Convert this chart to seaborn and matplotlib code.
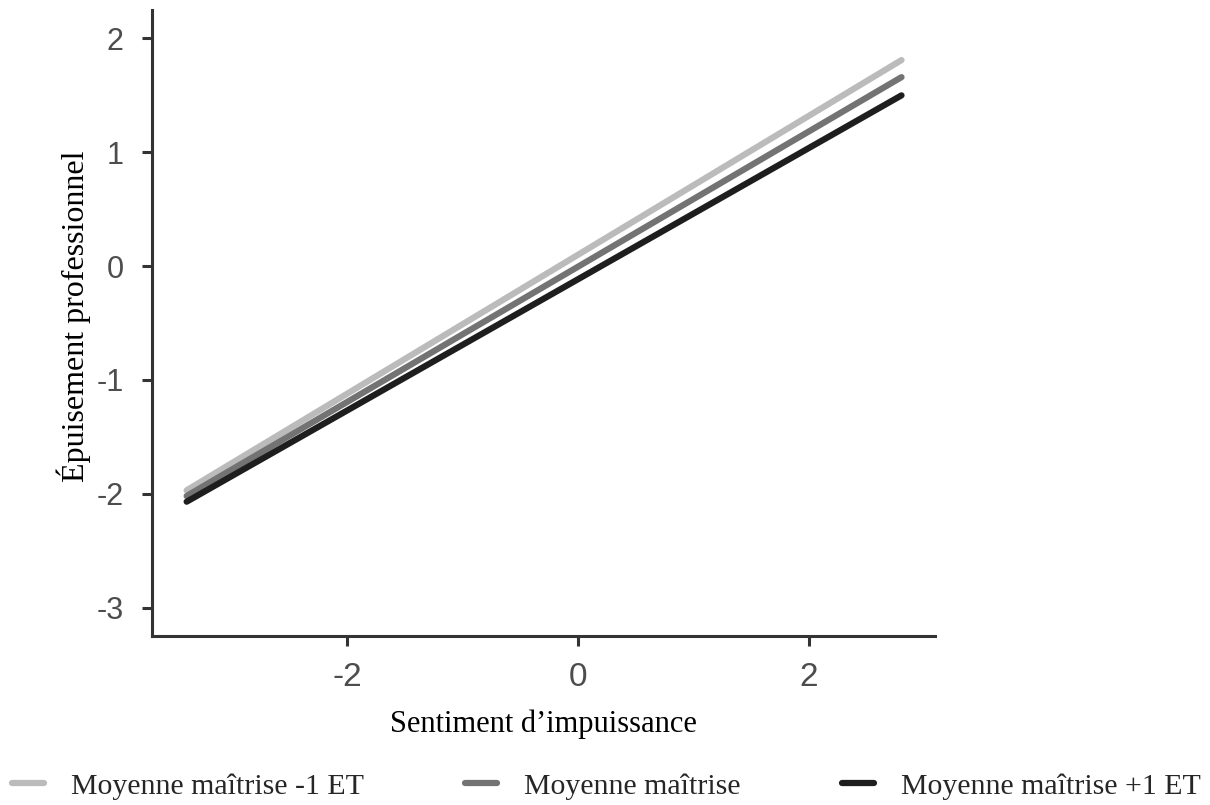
import matplotlib
matplotlib.use("Agg")
import matplotlib.pyplot as plt
import seaborn as sns
import pandas as pd

# Data
x_range = [-3.39, 2.80]
series_names = ["Moyenne maîtrise -1 ET", "Moyenne maîtrise", "Moyenne maîtrise +1 ET"]
y_low_sd = [-1.97, 1.81]
y_mean = [-2.02, 1.66]
y_high_sd = [-2.07, 1.50]
x_ticks = [-2, 0, 2]
y_ticks = [-3, -2, -1, 0, 1, 2]
colors = ["#BBBBBB", "#737373", "#1E1E1E"]

df = pd.DataFrame({
    "x": x_range * 3,
    "y": y_low_sd + y_mean + y_high_sd,
    "group": [series_names[0]] * 2 + [series_names[1]] * 2 + [series_names[2]] * 2,
})

sns.set_theme(style="ticks")
fig = plt.figure(figsize=(12.1, 8.05), dpi=100)
ax = fig.add_axes([152 / 1210, 1 - 636 / 805, (935 - 152) / 1210, (636 - 10) / 805])

sns.lineplot(data=df, x="x", y="y", hue="group", hue_order=series_names,
             palette=colors, linewidth=4.5, ax=ax, legend=True)

ax.set_xlim(-3.69, 3.09)
ax.set_ylim(-3.25, 2.25)
ax.set_xticks(x_ticks)
ax.set_yticks(y_ticks)
ax.set_xticklabels([str(v) for v in x_ticks], family="Liberation Sans", fontsize=24, color="#4D4D4D")
ax.set_yticklabels([str(v) for v in y_ticks], family="Liberation Sans", fontsize=22, color="#4D4D4D")
ax.tick_params(axis="both", length=7.5, width=2.2, color="#333333")
ax.tick_params(axis="x", pad=11)
ax.tick_params(axis="y", pad=13)
for s in ["left", "bottom"]:
    ax.spines[s].set_linewidth(2.2)
    ax.spines[s].set_color("#333333")
sns.despine(ax=ax)

ax.set_xlabel("Sentiment d’impuissance", family="Liberation Serif", fontsize=22, color="black", labelpad=12)
ax.set_ylabel("Épuisement professionnel", family="Liberation Serif", fontsize=23, color="black")
ax.yaxis.set_label_coords(-0.078, 0.511)

handles, labels = ax.get_legend_handles_labels()
ax.get_legend().remove()
fig.legend(handles, labels, loc="center", bbox_to_anchor=(0.501, 0.023), ncol=3,
           frameon=False, prop={"family": "Liberation Serif", "size": 21.5},
           handlelength=1.07, handletextpad=0.9, columnspacing=3.4)

fig.savefig("out.png", dpi=100)
